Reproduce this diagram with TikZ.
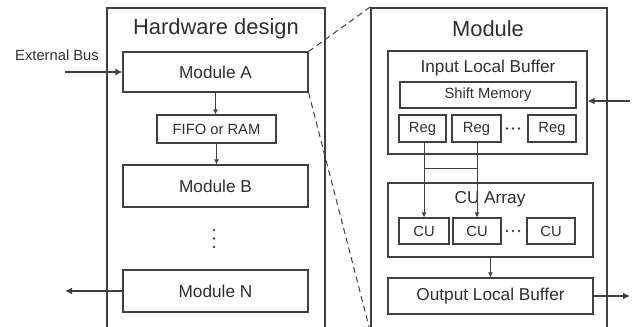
\documentclass[tikz,border=0pt]{standalone}
\usepackage{fontspec}
\setmainfont{Liberation Sans}
\usetikzlibrary{arrows.meta}

\begin{document}
\begin{tikzpicture}[x=1bp, y=1bp,
  box/.style = {draw=lineHW, line width=1.2bp, inner sep=0pt, text=textHW},
  frame/.style = {draw=lineHW, line width=1.8bp, inner sep=0pt},
  link/.style = {draw=lineHW, line width=1bp, -{Latex[length=5bp,width=5bp]}},
  bus/.style = {draw=lineHW, line width=2.4bp, -{Latex[length=7bp,width=7bp]}},
  zoomline/.style = {draw=lineHW, line width=1bp, dash pattern=on 6bp off 4bp},
  big/.style = {font=\fontsize{22}{24}\selectfont, text=textHW},
  mid/.style = {font=\fontsize{17.3}{19}\selectfont},
  small/.style = {font=\fontsize{14.8}{16}\selectfont}]

\definecolor{lineHW}{HTML}{404040}
\definecolor{textHW}{HTML}{2e2e2e}

\useasboundingbox (0,0) rectangle (635,326);

% outer frames
\node[frame, minimum width=218bp, minimum height=322bp] (hw) at (216,157) {};
\node[frame, minimum width=236bp, minimum height=322bp] (mod) at (489,157) {};
\node[big] (hwTitle) at (216,297) {Hardware design};
\node[big] (modTitle) at (488,297) {Module};

% hardware design chain
\node[box, mid, minimum width=185bp, minimum height=40bp] (modA) at (215.5,254) {Module A};
\node[box, small, minimum width=119bp, minimum height=28bp] (fifo) at (216.5,197) {FIFO or RAM};
\node[box, mid, minimum width=185bp, minimum height=42bp] (modB) at (215.5,140) {Module B};
\node[box, mid, minimum width=185bp, minimum height=42bp] (modN) at (215.5,35) {Module N};
\foreach \y in {79,87.5,96} {
 \fill[lineHW] (214,\y) circle (1.4bp);
}

\draw[link] (modA.south) -- (modA.south |- fifo.north);
\draw[link] (fifo.south) -- (fifo.south |- modB.north);

\node[small, text=textHW] (extBus) at (57,271) {External Bus};
\coordinate (busIn) at (65,254);
\coordinate (busOut) at (65,35);
\draw[bus] (busIn) -- (modA.west);
\draw[bus] (modN.west) -- (busOut);

% module internals
\node[box, minimum width=199bp, minimum height=103bp] (ilb) at (487.5,223.5) {};
\node[mid, text=textHW] (ilbTitle) at (488,258) {Input Local Buffer};
\node[box, small, minimum width=176bp, minimum height=26bp] (shift) at (488,231) {Shift Memory};
\foreach \n/\x/\w in {1/422.5/47, 2/476.5/49, 3/552/48} {
 \node[box, small, minimum width=\w bp, minimum height=27bp] (reg\n) at (\x,197.5) {Reg};
}

\node[box, minimum width=205bp, minimum height=74bp] (cua) at (490.5,106) {};
\node[mid, text=textHW] (cuaTitle) at (490,127) {CU Array};
\foreach \n/\x/\w in {1/424/50, 2/477/48, 3/551/48} {
 \node[box, small, minimum width=\w bp, minimum height=26bp] (cu\n) at (\x,95) {CU};
}

% the "..." between the last two regs / cus
\foreach \x in {507,513,519} {
 \fill[lineHW] (\x,197.5) circle (1.4bp);
 \fill[lineHW] (\x,95) circle (1.4bp);
}

\node[box, mid, minimum width=205bp, minimum height=36bp] (olb) at (490.5,30) {Output Local Buffer};

% reg -> cu wiring
\coordinate (tap) at (450,158);
\draw[link] (cu1.north |- reg1.south) -- (cu1.north);
\draw[link] (cu2.north |- reg2.south) -- (cu2.north);
\draw[lineHW, line width=1bp] (tap -| cu1.north) -- (tap -| cu2.north);
\draw[link] (cua.south) -- (olb.north);

\coordinate (inR) at (630,225);
\coordinate (outR) at (630,30);
\draw[bus] (inR) -- (inR -| ilb.east);
\draw[bus] (olb.east) -- (outR);

% zoom lines
\draw[zoomline] (modA.north east) -- (mod.north west);
\draw[zoomline] (modA.south east) -- (mod.south west);
\end{tikzpicture}
\end{document}
